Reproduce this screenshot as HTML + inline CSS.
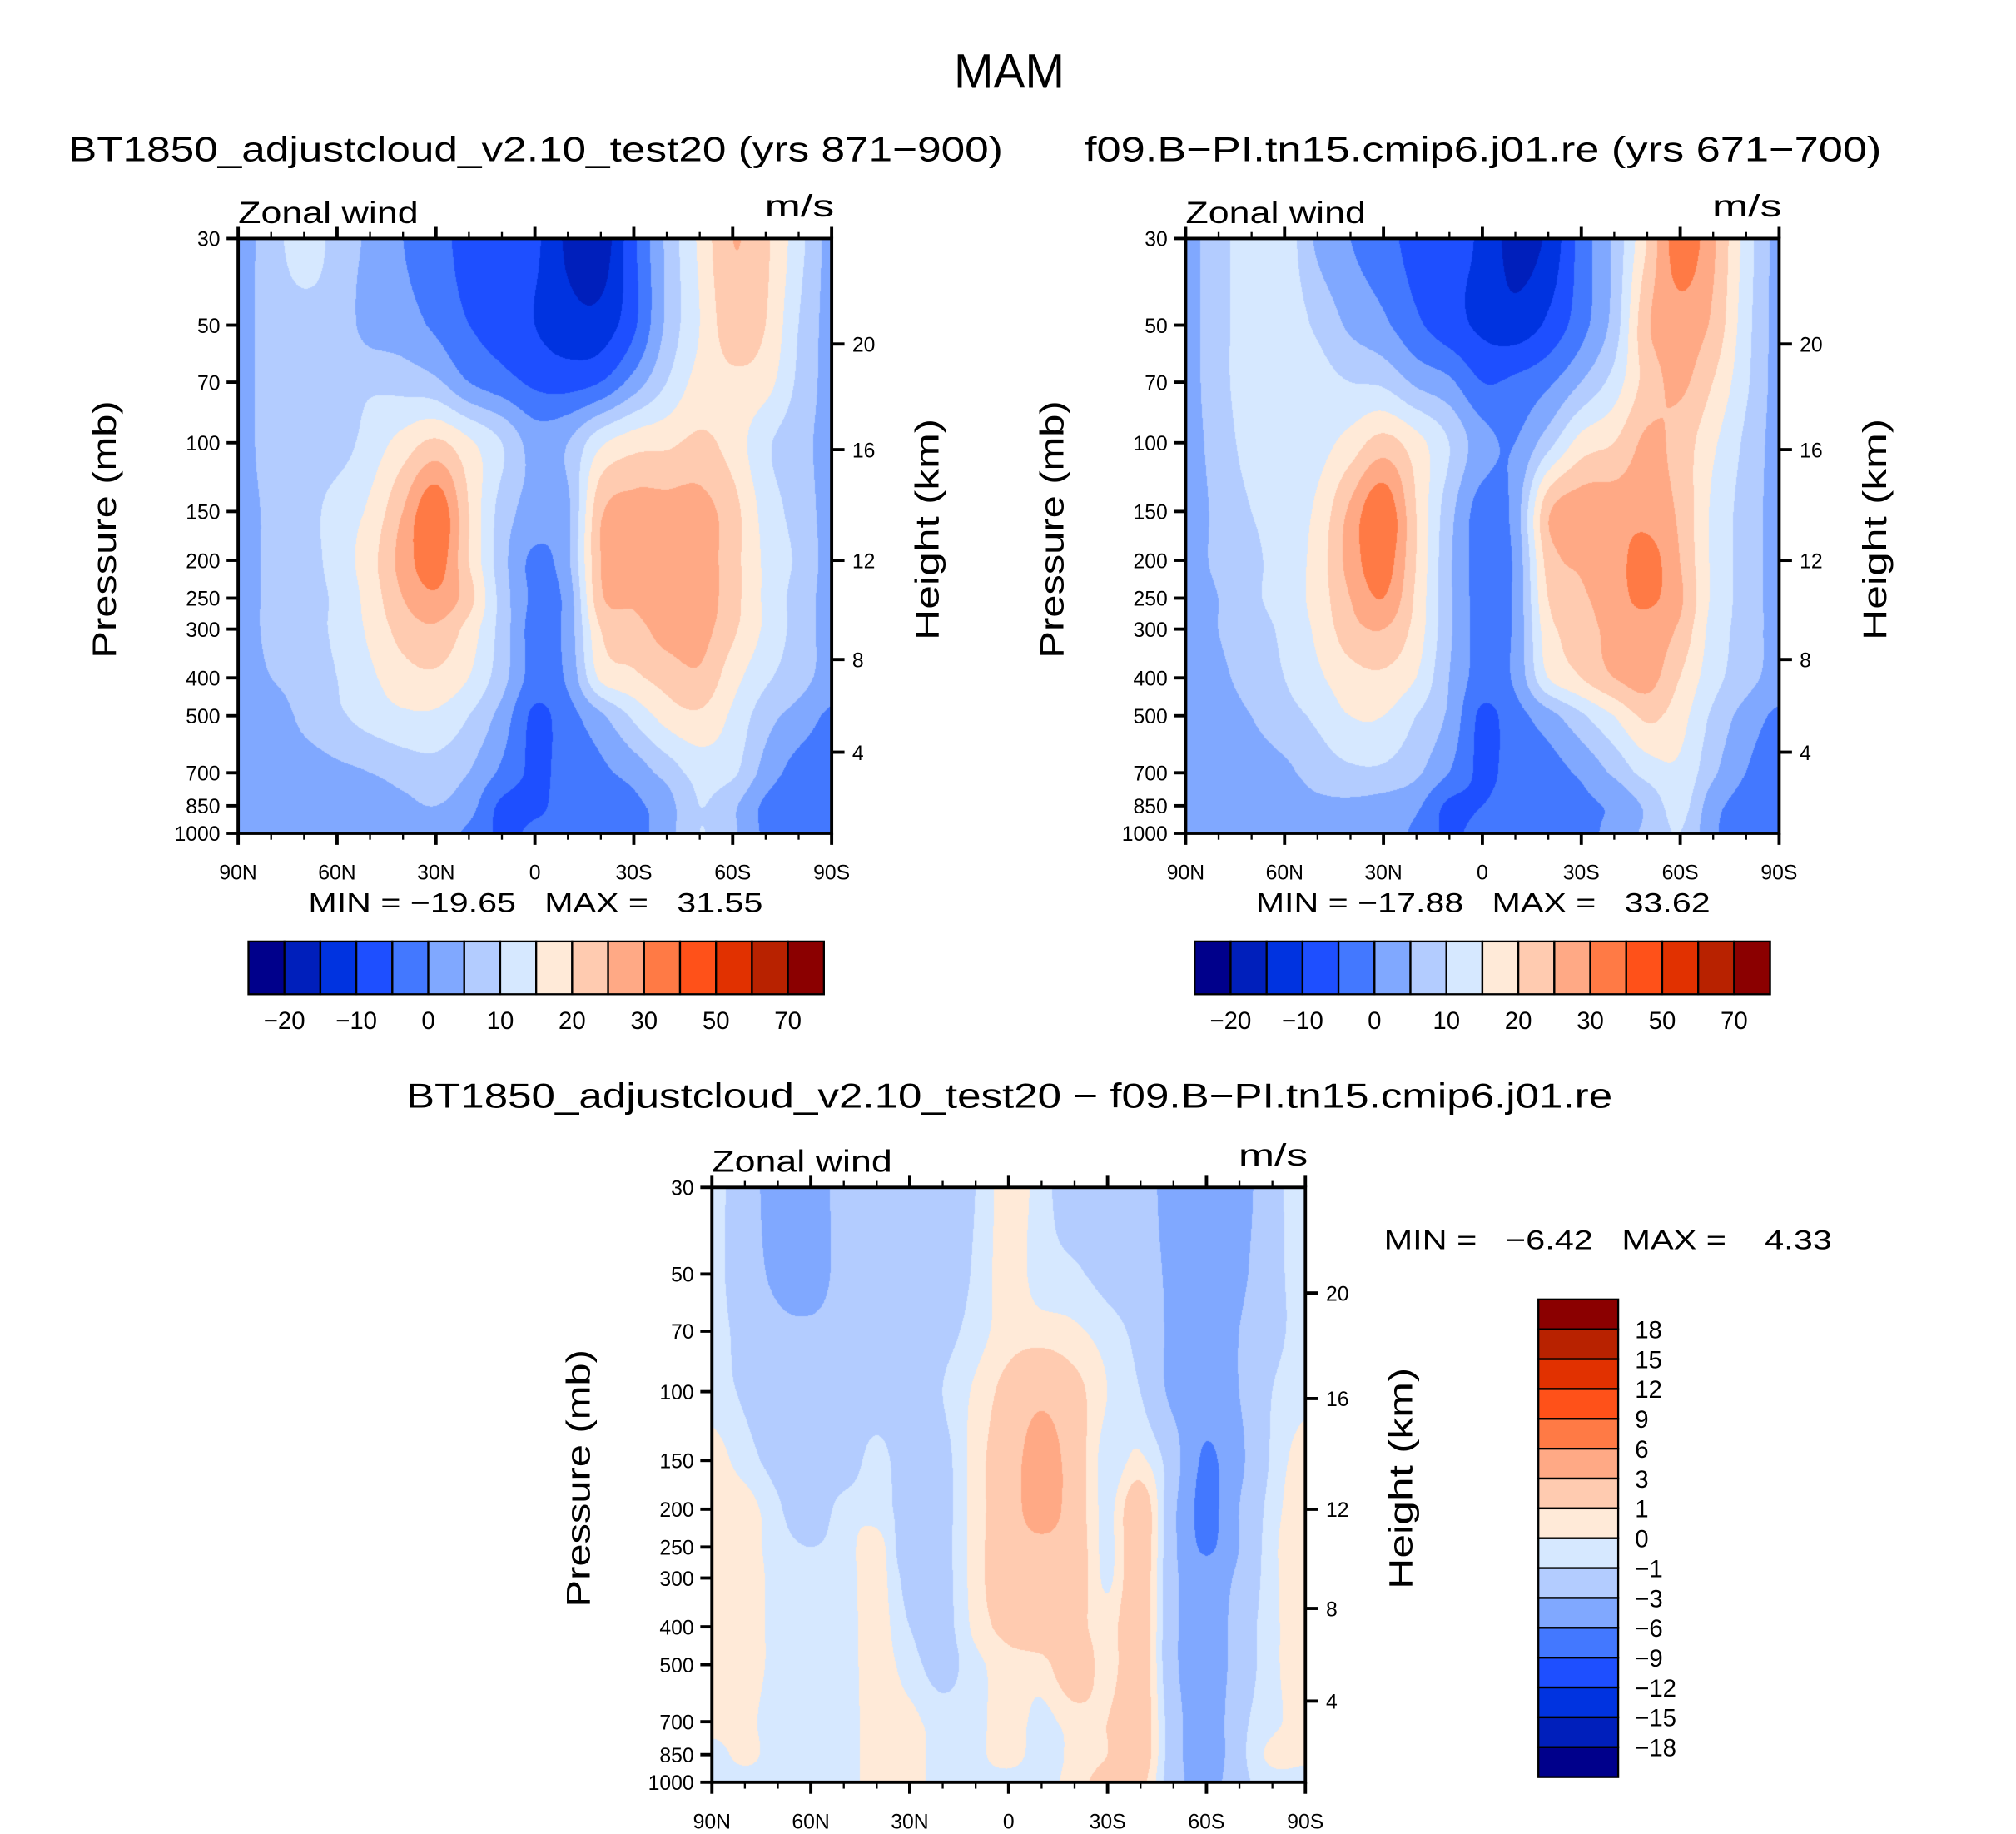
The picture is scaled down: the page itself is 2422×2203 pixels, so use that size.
<!DOCTYPE html>
<html><head><meta charset="utf-8">
<style>
html,body{margin:0;padding:0;background:#fff;}
#root{position:relative;width:2422px;height:2203px;overflow:hidden;}
svg{position:absolute;left:0;top:0;}
canvas{position:absolute;}
text{font-family:"Liberation Sans",sans-serif;fill:#000;white-space:pre;}
</style></head>
<body>
<div id="root">
<canvas id="c1"></canvas>
<canvas id="c2"></canvas>
<canvas id="c3"></canvas>
<svg id="svg" width="2422" height="2203" viewBox="0 0 1566 1424"></svg>
</div>
<script>
// ---- data ----
const latLabels = ["90N","80N","70N","60N","50N","40N","30N","20N","10N","0","10S","20S","30S","40S","50S","60S","70S","80S","90S"];
const pressureLevels = [30,50,70,100,150,200,250,300,400,500,700,850,1000];
const pressureTickLabels = ["30","50","70","100","150","200","250","300","400","500","700","850","1000"];
const heightTickLabels = ["4","8","12","16","20"];
const xTickLabels = ["90N","60N","30N","0","30S","60S","90S"];
const absLevels = [-20,-15,-10,-5,0,5,10,15,20,25,30,40,50,60,70];
const absBarLabels = ["-20","-10","0","10","20","30","50","70"];
const diffLevels = [-18,-15,-12,-9,-6,-3,-1,0,1,3,6,9,12,15,18];
const diffBarLabels = ["18","15","12","9","6","3","1","0","-1","-3","-6","-9","-12","-15","-18"];
const panel1Values = [
[3,7.5,13,8,4,0,-3,-7,-8,-9,-16,-18,-6,6,16,25,21,12,3],
[3,7,8,8,3,2,-1,-5,-7,-10,-13,-13,-6,6,15,23,20,10,3],
[3,7,8,8,9,8,6,0,-3,-6,-7,-5,2,10,17,19,17,9,3],
[3,7,8,8,12,17,21,16,10,3,5,14,18,19,21,18,11,7,3],
[3,6,8,12,16,25,34,20,8,3,4,24,27,27,27,22,13,8,3],
[3,6,8,12,18,27,33,20,7,-1,4,25,27,28,28,22,14,9,3],
[3,6,8,11,17,25,29,22,8,-1,2,24,26,28,28,22,14,8,3],
[3,6,8,11,16,22,24,18,8,-2,2,20,23,27,27,21,14,8,3],
[3,5,7,10,14,18,19,15,7,-2,1,16,19,22,24,17,11,7,3],
[3,3,6,9,12,14,14,10,3,-6,-2,4,11,17,19,14,7,3,-1],
[2,3,3,4,5,7,8,5,-1,-6,-3,-1,2,7,12,11,3,-2,-3],
[2,2,3,3,3,4,5,2,-6,-6,-3,-1,-1,3,10,6,-1,-3,-3],
[2,2,2,2,3,3,2,-1,-6,-4,-4,-3,-2,3,10,6,-1,-3,-3]];
const panel2Values = [
[3,8,13,13,4,0,-3,-7,-8,-11,-17,-14,-3,6,20,33,26,13,3],
[3,8,13,13,9,4,1,-4,-8,-11,-13,-9,-2,7,24,28,24,12,3],
[3,8,13,13,12,10,9,4,1,-5,-4,-1,5,12,22,26,20,11,3],
[3,7,12,12,13,17,22,17,10,2,0,8,17,20,26,23,16,9,3],
[3,6,10,12,16,26,34,20,7,-2,2,24,28,28,28,24,14,8,3],
[3,6,9,12,17,27,33,20,6,-2,1,22,26,28,32,25,14,8,3],
[3,5,9,12,17,25,30,19,6,-2,1,20,24,28,31,26,14,8,3],
[3,5,8,11,16,23,25,18,6,-2,1,18,22,27,28,24,13,8,3],
[3,4,7,10,14,18,19,15,5,-2,1,15,20,25,27,20,12,7,3],
[3,3,5,8,11,15,15,10,4,-6,-2,3,9,15,21,17,9,3,-1],
[2,3,3,4,7,9,9,6,0,-6,-3,-2,1,6,12,14,6,0,-3],
[2,2,3,3,4,4,3,1,-6,-5,-3,-2,-1,1,6,12,2,-2,-3],
[2,2,2,2,3,3,2,-1,-6,-3,-5,-2,-2,2,6,10,1,-3,-3]];
const diffValues = [
[-0.5,-2,-4,-4.5,-2,-2,-2,-2,-1,0.5,-0.5,-2,-2,-2,-4,-4.5,-4,-1.5,-0.5],
[-0.5,-2,-3.5,-4.5,-2,-2,-2,-2,-0.8,0.5,-0.5,-0.8,-1.5,-2,-3.5,-4.5,-3.5,-1.5,-0.5],
[-0.5,-1.5,-2.5,-2.5,-2,-2,-2,-1.5,-0.5,0.5,0.5,0.2,-0.5,-1.5,-3.5,-4.5,-3,-1.5,-0.5],
[-0.5,-1.2,-2,-2,-2,-2,-2,-1,0.2,1.5,2.5,1.5,0,-1,-3.5,-4.5,-3,-1,-0.3],
[0.5,-0.5,-1.5,-2,-2,-0.5,-2,-1.5,0.5,2,4,2,-0.5,0.2,-2,-6.5,-3.5,-0.8,0.5],
[0.5,0.5,-0.8,-2,-0.5,-0.5,-1.5,-1.5,0.5,2,4,2,-0.3,2,-2.5,-7,-3,-0.5,0.7],
[0.5,0.5,-0.5,-1,-0.5,0.5,-2,-1.5,0.5,2,2.5,2,-0.3,2,-2.5,-6.5,-3,-0.3,0.7],
[0.5,0.5,-0.3,-0.5,-0.5,0.5,-1.5,-1.5,0.5,2,2,2,-0.2,2,-2.5,-4.5,-2.5,-0.3,0.7],
[0.5,0.5,-0.3,-0.5,-0.5,0.5,-1,-1.5,0.3,1.5,2,1.5,0.5,2,-2.5,-4.5,-2,-0.3,0.7],
[0.5,0.5,-0.3,-0.5,-0.5,0.5,-0.5,-1.5,-0.3,0.5,0.6,2,0.5,2,-2.5,-4.5,-2,-0.3,0.7],
[0.5,0.3,-0.5,-0.5,-0.5,0.5,0.3,-0.5,-0.3,0.5,-0.3,0.5,1,2,-2,-4.5,-1.5,-0.3,0.5],
[-0.5,0.3,-0.5,-0.5,-0.5,0.5,0.5,-0.5,-0.3,0.5,-0.5,0.3,1,2,-2,-4.5,-1.5,0.3,0.3],
[-0.5,-0.5,-0.5,-0.5,-0.5,0.5,0.5,-0.5,-0.3,-0.5,-0.5,0.5,1.5,1.5,-2,-4,-1.5,-0.5,-0.5]];

// ---- styles ----
const COLORS = ["#00008b","#001fbb","#0033e0","#1e4fff","#4378ff","#80a8ff","#b3ccff","#d6e8ff",
"#ffead8","#ffcbb0","#ffa985","#ff7a45","#ff5119","#e13100","#b82200","#8b0000"];
const S = 2422/1566, W = 461, H = 462;
const NS = "http://www.w3.org/2000/svg";
const svg = document.getElementById('svg');

function yOfP(p, y0){ return y0 + Math.log(p/30)/Math.log(1000/30)*H; }

function el(tag, attrs, parent){ const e=document.createElementNS(NS,tag); for(const k in attrs) e.setAttribute(k,attrs[k]); (parent||svg).appendChild(e); return e; }
function txt(s, x, y, size, anchor, parent, extra){
  const t=el('text',Object.assign({x:x,y:y,'font-size':size,'text-anchor':anchor||'start'},extra||{}),parent); t.textContent=s; return t; }
function fit(len){ return {textLength:len,lengthAdjust:'spacingAndGlyphs'}; }

function cr(p0,p1,p2,p3,t){
  return 0.5*((2*p1)+(-p0+p2)*t+(2*p0-5*p1+4*p2-p3)*t*t+(-p0+3*p1-3*p2+p3)*t*t*t);
}
function fillCanvas(id, x0, y0, vals, levels){
  const c=document.getElementById(id);
  const pw=Math.round(W*S), ph=Math.round(H*S);
  c.width=pw; c.height=ph;
  c.style.left=(x0*S)+'px'; c.style.top=(y0*S)+'px';
  const ctx=c.getContext('2d'); const img=ctx.createImageData(pw,ph);
  const lp=pressureLevels.map(p=>Math.log(p));
  const nC=latLabels.length-1, nR=pressureLevels.length-1;
  const rgb=COLORS.map(h=>[parseInt(h.substr(1,2),16),parseInt(h.substr(3,2),16),parseInt(h.substr(5,2),16)]);
  const gv=(r,cc)=>vals[Math.max(0,Math.min(nR,r))][Math.max(0,Math.min(nC,cc))];
  // precompute column interpolation per row
  const colPos=[]; for(let px=0;px<pw;px++){ const fx=(px+0.5)/pw*nC; let c0=Math.min(nC-1,Math.floor(fx)); colPos.push([c0,fx-c0]); }
  const rowsInterp=[];
  for(let r=0;r<=nR;r++){ const arr=new Float32Array(pw);
    for(let px=0;px<pw;px++){ const [c0,t]=colPos[px]; arr[px]=cr(gv(r,c0-1),gv(r,c0),gv(r,c0+1),gv(r,c0+2),t); }
    rowsInterp.push(arr); }
  const R=(r)=>rowsInterp[Math.max(0,Math.min(nR,r))];
  for(let py=0;py<ph;py++){
    const lnp=Math.log(30)+(py+0.5)/ph*Math.log(1000/30);
    let r=0; while(r<nR-1 && lnp>lp[r+1]) r++;
    const fy=Math.min(1,Math.max(0,(lnp-lp[r])/(lp[r+1]-lp[r])));
    const a=R(r-1),b=R(r),cc=R(r+1),d=R(r+2);
    for(let px=0;px<pw;px++){
      const v=cr(a[px],b[px],cc[px],d[px],fy);
      let k=0; while(k<levels.length && v>=levels[k]) k++;
      const o=(py*pw+px)*4; img.data[o]=rgb[k][0]; img.data[o+1]=rgb[k][1]; img.data[o+2]=rgb[k][2]; img.data[o+3]=255;
    }
  }
  ctx.putImageData(img,0,0);
}

const heightTickY = [584,512,435,349,267];

function drawAxes(x0, y0, name){
  const g=el('g',{});
  el('rect',{x:x0,y:y0,width:W,height:H,fill:'none',stroke:'#000','stroke-width':2.5},g);
  for(let lat=0;lat<=180;lat+=10){
    const x=x0+lat/180*W, major=lat%30===0, L=major?9:5;
    el('line',{x1:x,y1:y0+H,x2:x,y2:y0+H+L,stroke:'#000','stroke-width':major?2.5:1.5},g);
    el('line',{x1:x,y1:y0,x2:x,y2:y0-L,stroke:'#000','stroke-width':major?2.5:1.5},g);
  }
  xTickLabels.forEach((s,i)=>{ const t=txt(s,x0+i*W/6,y0+H+36,16,'middle',g);   });
  pressureLevels.forEach((p,i)=>{ const y=yOfP(p,y0);
    el('line',{x1:x0-9,y1:y,x2:x0,y2:y,stroke:'#000','stroke-width':2.5},g);
    txt(pressureTickLabels[i],x0-14,y+6,16,'end',g); });
  heightTickLabels.forEach((s,i)=>{ const y=heightTickY[i]-185+y0;
    el('line',{x1:x0+W,y1:y,x2:x0+W+10,y2:y,stroke:'#000','stroke-width':2.5},g);
    txt(s,x0+W+16,y+6,16,'start',g); });
  txt('Zonal wind',x0,y0-12,24,'start',g,fit(140));
  txt('m/s',x0+W+2,y0-17,24,'end',g,fit(54));
  txt('Pressure (mb)',0,0,26,'middle',g,Object.assign({transform:`translate(${x0-95},${y0+H/2-5}) rotate(-90)`},fit(200)));
  txt('Height (km)',0,0,26,'middle',g,Object.assign({transform:`translate(${x0+W+83},${y0+H/2-5}) rotate(-90)`},fit(172)));
}

function hbar(x0,y0,name){
  const g=el('g',{});
  const bw=447/16;
  COLORS.forEach((c,i)=>el('rect',{x:x0+i*bw,y:y0,width:bw,height:41,fill:c,stroke:'#000','stroke-width':1.5},g));
  absBarLabels.forEach((s,i)=>txt(s.replace('-','\u2212'),x0+(1+2*i)*bw,y0+68,19,'middle',g));
}

txt('MAM',784,68,38,'middle',null,Object.assign({},fit(86)));
txt('BT1850_adjustcloud_v2.10_test20 (yrs 871\u2212900)',416,125,27,'middle',null,Object.assign({},fit(726)));
txt('f09.B\u2212PI.tn15.cmip6.j01.re (yrs 671\u2212700)',1152,125,27,'middle',null,Object.assign({},fit(619)));
txt('BT1850_adjustcloud_v2.10_test20 \u2212 f09.B\u2212PI.tn15.cmip6.j01.re',784,860,27,'middle',null,Object.assign({},fit(937)));

fillCanvas('c1',185,185,panel1Values,absLevels);
fillCanvas('c2',921,185,panel2Values,absLevels);
fillCanvas('c3',553,922,diffValues,diffLevels);
drawAxes(185,185,'panel-1');
drawAxes(921,185,'panel-2');
drawAxes(553,922,'difference');

txt('MIN = \u221219.65   MAX =   31.55',416,708,21,'middle',null,Object.assign({},fit(353)));
txt('MIN = \u221217.88   MAX =   33.62',1152,708,21,'middle',null,Object.assign({},fit(353)));
txt('MIN =   \u22126.42   MAX =    4.33',1249,970,21,'middle',null,Object.assign({},fit(348)));
hbar(193,731,'panel-1-colorbar');
hbar(928,731,'panel-2-colorbar');

(function(){
  const g=el('g',{});
  const x0=1195,y0=1009,bh=371/16;
  for(let i=0;i<16;i++) el('rect',{x:x0,y:y0+i*bh,width:62,height:bh,fill:COLORS[15-i],stroke:'#000','stroke-width':1.5},g);
  diffBarLabels.forEach((s,i)=>txt(s.replace('-','\u2212'),1270,y0+(i+1)*bh+7,19,'start',g));
})();
</script>
</body></html>
